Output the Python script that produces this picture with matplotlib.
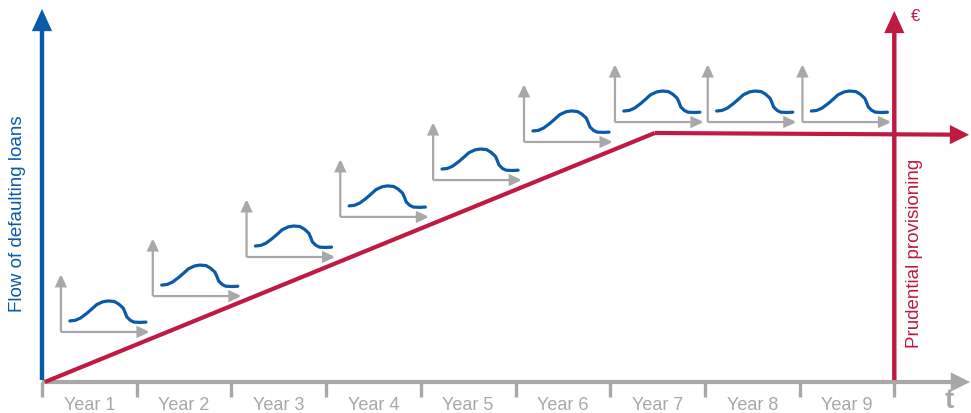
import matplotlib.pyplot as plt

plt.rcParams['font.family'] = ['Liberation Sans', 'DejaVu Sans']

# categories on the time axis
years = ['Year 1', 'Year 2', 'Year 3', 'Year 4', 'Year 5',
         'Year 6', 'Year 7', 'Year 8', 'Year 9']

# prudential provisioning (red line), x in years, y in % of plateau
prov_x = [0.03, 6.47, 9.79]
prov_y = [0, 100, 99.3]

# small yearly default-flow charts: origin x (years) and baseline (units)
mini_x = [0.20, 1.17, 2.16, 3.15, 4.13, 5.09, 6.05, 7.03, 8.03]
mini_base = [20.1, 34.5, 50.2, 66.3, 81.1, 96.4, 104.4, 104.4, 104.4]

# shape of the default curve inside a small chart (share of width / height)
curve_dx = [0.10, 0.16, 0.22, 0.29, 0.35, 0.40, 0.47, 0.53, 0.60, 0.65,
            0.70, 0.72, 0.74, 0.78, 0.82, 0.89, 0.955]
curve_dy = [0.19, 0.20, 0.24, 0.32, 0.40, 0.47, 0.52, 0.535, 0.525, 0.48,
            0.41, 0.34, 0.26, 0.20, 0.17, 0.165, 0.17]

BLUE = '#0b5aa8'
RED = '#be1a42'
GREY = '#a8a8a8'

# pixel geometry -> data units
px_per_year = 94.7
px_per_unit = 2.49
mini_w = 89 / px_per_year
mini_h = 58 / px_per_unit

fig = plt.figure(figsize=(9.71, 4.14), dpi=100)
ax = fig.add_axes([0, 0, 1, 1])
ax.set_xlim(-42 / px_per_year, (971 - 42) / px_per_year)
ax.set_ylim((383 - 414) / px_per_unit, 383 / px_per_unit)
ax.axis('off')


def arrow(x0, y0, x1, y1, color, lw, hl, hw, z=3):
    ax.annotate('', xy=(x1, y1), xytext=(x0, y0),
                arrowprops=dict(arrowstyle=f'-|>,head_length={hl},head_width={hw}',
                                mutation_scale=1, color=color, lw=lw,
                                shrinkA=0, shrinkB=0, capstyle='butt',
                                joinstyle='miter'),
                zorder=z)


# time axis with ticks
arrow(0, 0, 9.80, 0, GREY, 3.0, 9, 4.5, z=2)
for i in range(len(years) + 1):
    ax.plot([i, i], [0, -6.2], color=GREY, lw=2.4, solid_capstyle='butt', zorder=2)
for i, lab in enumerate(years):
    ax.text(i + 0.5, -11.0, lab, ha='center', va='baseline', fontsize=13, color=GREY)
ax.text(9.58, -10.0, 't', ha='center', va='baseline', fontsize=20,
        fontweight='bold', color=GREY)

# left axis (blue)
arrow(0, 0.8, 0, 149.8, BLUE, 3.2, 10.5, 4.8, z=4)
ax.text(-0.263, 68, 'Flow of defaulting loans', rotation=90, ha='center',
        va='center', fontsize=13.5, color=BLUE)

# right axis (red)
arrow(9.0, 0.8, 9.0, 149, RED, 3.2, 10.5, 4.8, z=4)
ax.text(9.22, 147, '€', ha='center', va='center', fontsize=12, color=RED)
ax.text(9.21, 52, 'Prudential provisioning', rotation=90, ha='center',
        va='center', fontsize=13.5, color=RED)

# provisioning line
ax.plot(prov_x[:2], prov_y[:2], color=RED, lw=3.0, solid_capstyle='butt', zorder=3)
arrow(prov_x[1], prov_y[1], prov_x[2], prov_y[2], RED, 3.0, 9, 4.5, z=3)

# small charts
for x0, b in zip(mini_x, mini_base):
    arrow(x0, b, x0, b + mini_h, GREY, 1.6, 7, 3.2, z=2)
    arrow(x0, b, x0 + mini_w, b, GREY, 1.6, 7, 3.2, z=2)
    cx = [x0 + d * mini_w for d in curve_dx]
    cy = [b + d * mini_h for d in curve_dy]
    ax.plot(cx, cy, color=BLUE, lw=2.3, solid_capstyle='round',
            solid_joinstyle='round', zorder=3)

fig.savefig('out.png', dpi=100)
